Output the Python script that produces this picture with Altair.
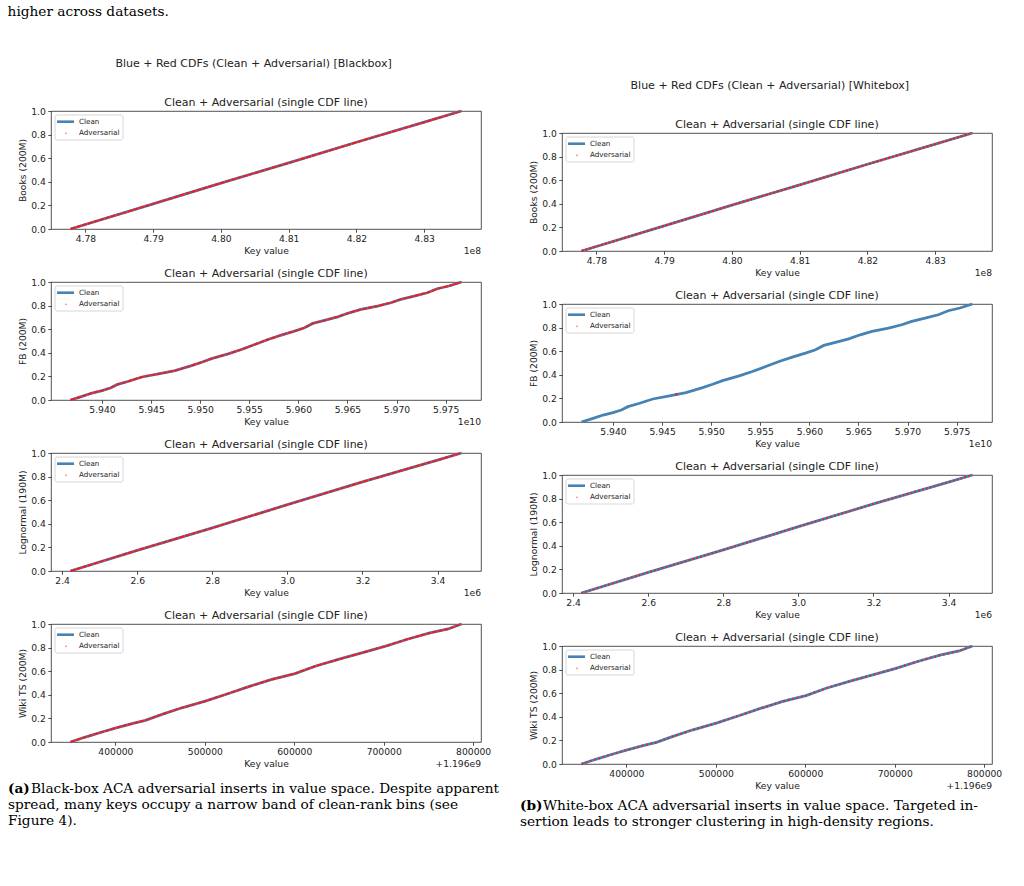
import altair as alt
import pandas as pd

# ---------------------------------------------------------------------------
# CDF curves: key value -> cumulative fraction of keys
# ---------------------------------------------------------------------------
BOOKS_KEYS_E8 = [4.7778, 4.7900, 4.8000, 4.8100, 4.8200, 4.8300, 4.8355]
BOOKS_CDF = [0.000, 0.213, 0.389, 0.560, 0.735, 0.905, 1.000]

FB_KEYS_E10 = [5.93679, 5.93797, 5.93899, 5.94000, 5.94085, 5.94152, 5.94271,
               5.94406, 5.94575, 5.94744, 5.94913, 5.95015, 5.95116, 5.95285,
               5.95420, 5.95556, 5.95691, 5.95826, 5.95961, 5.96063, 5.96147,
               5.96266, 5.96401, 5.96519, 5.96638, 5.96807, 5.96942, 5.97043,
               5.97179, 5.97314, 5.97415, 5.97534, 5.97662]
FB_CDF = [0.000, 0.031, 0.059, 0.079, 0.102, 0.130, 0.159, 0.195, 0.221, 0.249,
          0.292, 0.320, 0.351, 0.391, 0.428, 0.470, 0.513, 0.550, 0.584, 0.612,
          0.649, 0.674, 0.705, 0.739, 0.768, 0.796, 0.824, 0.853, 0.881, 0.909,
          0.943, 0.966, 1.000]

LOGN_KEYS_E6 = [2.4222, 2.6000, 2.8000, 3.0000, 3.2000, 3.4000, 3.4638]
LOGN_CDF = [0.000, 0.175, 0.365, 0.562, 0.755, 0.940, 1.000]

WIKI_BASE = 1.196e9
WIKI_KEYS_OFF = [349800, 366500, 385100, 400000, 418600, 433500, 452100, 474400,
                 500500, 526500, 550700, 574900, 600900, 623300, 651200, 675400,
                 701400, 727400, 751600, 772100, 787000]
WIKI_CDF = [0.000, 0.042, 0.085, 0.118, 0.155, 0.183, 0.234, 0.290, 0.346, 0.411,
            0.473, 0.530, 0.580, 0.642, 0.704, 0.755, 0.811, 0.873, 0.924, 0.958,
            1.000]

# white-box FB: the only adversarial key that shows up
FB_WB_ADV_KEYS_E10 = [5.94645]
FB_WB_ADV_CDF = [0.236]

# axis tick labels
Y_TICKS = [0.0, 0.2, 0.4, 0.6, 0.8, 1.0]
BOOKS_TICKS_E8 = [4.78, 4.79, 4.80, 4.81, 4.82, 4.83]
FB_TICKS_E10 = [5.940, 5.945, 5.950, 5.955, 5.960, 5.965, 5.970, 5.975]
LOGN_TICKS_E6 = [2.4, 2.6, 2.8, 3.0, 3.2, 3.4]
WIKI_TICKS_OFF = [400000, 500000, 600000, 700000, 800000]

SUPTITLES = ["Blue + Red CDFs (Clean + Adversarial) [Blackbox]",
             "Blue + Red CDFs (Clean + Adversarial) [Whitebox]"]
PANEL_TITLE = "Clean + Adversarial (single CDF line)"
HEADER = "higher across datasets."
CAPTION_A = ["Black-box ACA adversarial inserts in value space. Despite apparent",
             "spread, many keys occupy a narrow band of clean-rank bins (see",
             "Figure 4)."]
CAPTION_B = ["White-box ACA adversarial inserts in value space. Targeted in-",
             "sertion leads to stronger clustering in high-density regions."]

BLUE = "#4682b4"
RED = "#ff1414"
TXT = "#222222"
SANS = "DejaVu Sans"
SERIF = "DejaVu Serif"
SERIF_SIZE = 13.7
W, H = 430, 118


def frame(keys, scale, cdf, base=0.0):
    return pd.DataFrame({"key": [base + k * scale for k in keys], "cdf": cdf})


books = frame(BOOKS_KEYS_E8, 1e8, BOOKS_CDF)
fb = frame(FB_KEYS_E10, 1e10, FB_CDF)
logn = frame(LOGN_KEYS_E6, 1e6, LOGN_CDF)
wiki = frame(WIKI_KEYS_OFF, 1.0, WIKI_CDF, WIKI_BASE)
fb_wb_adv = frame(FB_WB_ADV_KEYS_E10, 1e10, FB_WB_ADV_CDF)

one = pd.DataFrame({"k": [0]})

DATASETS = {
    "books": dict(df=books, ylabel="Books (200M)",
                  ticks=[t * 1e8 for t in BOOKS_TICKS_E8],
                  expr="format(datum.value / 1e8, '.2f')", offset="1e8"),
    "fb": dict(df=fb, ylabel="FB (200M)",
               ticks=[t * 1e10 for t in FB_TICKS_E10],
               expr="format(datum.value / 1e10, '.3f')", offset="1e10"),
    "logn": dict(df=logn, ylabel="Lognormal (190M)",
                 ticks=[t * 1e6 for t in LOGN_TICKS_E6],
                 expr="format(datum.value / 1e6, '.1f')", offset="1e6"),
    "wiki": dict(df=wiki, ylabel="Wiki TS (200M)",
                 ticks=[WIKI_BASE + t for t in WIKI_TICKS_OFF],
                 expr="format(datum.value - 1196000000, 'd')", offset="+1.196e9"),
}


def panel(name, adv):
    d = DATASETS[name]
    x = alt.X("key:Q",
              scale=alt.Scale(zero=False, nice=False, padding=19.5),
              axis=alt.Axis(values=d["ticks"], tickCount=len(d["ticks"]),
                            labelExpr=d["expr"], title="Key value",
                            labelFlush=False, labelOverlap=False, titlePadding=3))
    y = alt.Y("cdf:Q",
              scale=alt.Scale(domain=[0, 1], nice=False),
              axis=alt.Axis(values=Y_TICKS, tickCount=len(Y_TICKS), format=".1f",
                            title=d["ylabel"], labelFlush=False, labelOverlap=False,
                            titlePadding=3))
    clean = alt.Chart(d["df"]).mark_line(color=BLUE, strokeWidth=2.8).encode(x=x, y=y)

    if isinstance(adv, pd.DataFrame):
        red = alt.Chart(adv).mark_circle(color=RED, size=6, opacity=1).encode(
            x="key:Q", y="cdf:Q")
    else:
        red = alt.Chart(d["df"]).mark_line(color=RED, strokeWidth=2.0,
                                           strokeDash=adv, opacity=0.95).encode(
            x="key:Q", y="cdf:Q")

    box = alt.Chart(one).mark_rect(fill="white", fillOpacity=0.85, stroke="#cccccc",
                                   strokeWidth=0.8, cornerRadius=2).encode(
        x=alt.value(4), x2=alt.value(72), y=alt.value(4), y2=alt.value(29))
    key_line = alt.Chart(one).mark_rule(color=BLUE, strokeWidth=2.6).encode(
        x=alt.value(6), x2=alt.value(23), y=alt.value(10.7))
    key_dot = alt.Chart(one).mark_circle(color=RED, size=3, opacity=0.55).encode(
        x=alt.value(15), y=alt.value(22.3))
    key_txt = alt.Chart(one).mark_text(align="left", baseline="middle", font=SANS,
                                       fontSize=7.2, color=TXT)
    txt_clean = key_txt.encode(x=alt.value(28), y=alt.value(10.7), text=alt.value("Clean"))
    txt_adv = key_txt.encode(x=alt.value(28), y=alt.value(22.3), text=alt.value("Adversarial"))
    off = alt.Chart(one).mark_text(align="right", baseline="middle", font=SANS,
                                   fontSize=9.2, color=TXT).encode(
        x=alt.value(W), y=alt.value(H + 21.5), text=alt.value(d["offset"]))

    return alt.layer(clean, red, box, key_line, key_dot, txt_clean, txt_adv, off).properties(
        width=W, height=H,
        title=alt.TitleParams(PANEL_TITLE, font=SANS, fontSize=11, fontWeight="normal",
                              color=TXT, anchor="middle", frame="group", offset=-2.5))


def caption(tag, lines, dx, dy):
    base = alt.Chart(one).mark_text(align="left", baseline="middle", font=SERIF,
                                    fontSize=SERIF_SIZE, color="black")
    layers = [alt.Chart(one).mark_text(align="left", baseline="middle", font=SERIF,
                                       fontSize=SERIF_SIZE, fontWeight="bold",
                                       color="black").encode(
        x=alt.value(dx), y=alt.value(dy), text=alt.value(tag))]
    layers.append(base.encode(x=alt.value(dx + 23), y=alt.value(dy), text=alt.value(lines[0])))
    for i, line in enumerate(lines[1:], start=1):
        layers.append(base.encode(x=alt.value(dx), y=alt.value(dy + 16 * i),
                                  text=alt.value(line)))
    return alt.layer(*layers).properties(
        width=W, height=1, view=alt.ViewBackground(stroke="transparent"))


def suptitle(text, dx):
    return alt.TitleParams(text, font=SANS, fontSize=11, fontWeight="normal",
                           color=TXT, anchor="middle", offset=28, dx=dx)


DASH_BB = [5, 1]
left_col = alt.vconcat(
    panel("books", DASH_BB), panel("fb", DASH_BB), panel("logn", DASH_BB),
    panel("wiki", DASH_BB), caption("(a)", CAPTION_A, -43, -6),
    spacing=53, bounds="flush", title=suptitle(SUPTITLES[0], 0))

right_col = alt.vconcat(
    panel("books", [2.5, 1.5]), panel("fb", fb_wb_adv), panel("logn", [1.5, 2.5]),
    panel("wiki", [1.5, 3]), caption("(b)", CAPTION_B, -42, -11),
    spacing=53, bounds="flush", title=suptitle(SUPTITLES[1], 9))

# empty strip that lowers the white-box column relative to the black-box one
drop = alt.Chart(one).mark_point(opacity=0).encode(
    x=alt.value(0), y=alt.value(0)).properties(
    width=W, height=22, view=alt.ViewBackground(stroke="transparent"))
right_block = alt.vconcat(drop, right_col, spacing=0, bounds="flush")

chart = alt.hconcat(
    left_col, right_block, spacing=19,
    title=alt.TitleParams(HEADER, font=SERIF, fontSize=SERIF_SIZE, fontWeight="normal",
                          color="black", anchor="start", offset=39),
).properties(
    padding={"left": 7, "top": 4, "right": 0, "bottom": 0},
    background="white",
).configure_view(
    stroke="#262626", strokeWidth=0.8
).configure_axis(
    domain=False, grid=False, tickSize=3.2, tickWidth=0.8, tickColor=TXT,
    labelFont=SANS, labelFontSize=9.2, labelColor=TXT, labelPadding=2.5,
    titleFont=SANS, titleFontSize=9.2, titleFontWeight="normal", titleColor=TXT,
)

chart.save("out.html", embed_options={"renderer": "svg", "actions": False})
